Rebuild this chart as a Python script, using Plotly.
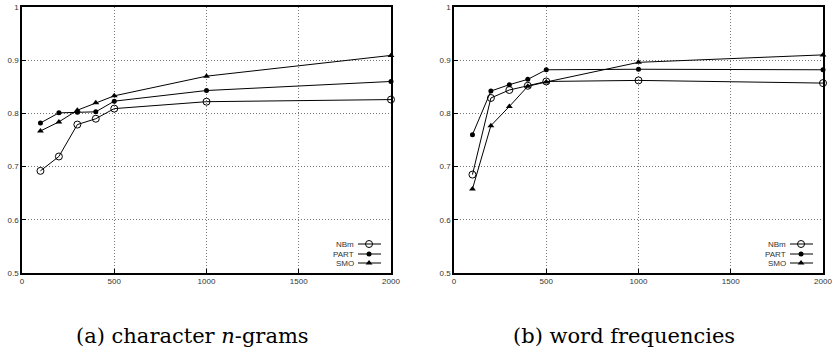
import plotly.graph_objects as go

x_vals = [100, 200, 300, 400, 500, 1000, 2000]

# (a) character n-grams
a_nbm = [0.692, 0.719, 0.779, 0.790, 0.809, 0.822, 0.826]
a_part = [0.782, 0.801, 0.802, 0.803, 0.823, 0.843, 0.860]
a_smo = [0.767, 0.784, 0.806, 0.820, 0.833, 0.870, 0.909]

# (b) word frequencies
b_nbm = [0.685, 0.829, 0.844, 0.852, 0.860, 0.862, 0.857]
b_part = [0.760, 0.842, 0.854, 0.864, 0.882, 0.883, 0.882]
b_smo = [0.658, 0.777, 0.813, 0.851, 0.859, 0.896, 0.910]

series_names = ["NBm", "PART", "SMO"]
x_ticks = [0, 500, 1000, 1500, 2000]
y_ticks = [0.5, 0.6, 0.7, 0.8, 0.9, 1.0]
y_tick_text = ["0.5", "0.6", "0.7", "0.8", "0.9", "1"]
captions = ["(a) character <i>n</i>-grams", "(b) word frequencies"]

# legend key placement (data units of each panel)
legend_rows_y = [0.5545, 0.5357, 0.5188]
legend_sample_x = [1821, 1946]
legend_marker_x = 1881
legend_text_x = 1808

markers = [
    dict(symbol="circle-open", size=7, color="black", line=dict(width=1, color="black")),
    dict(symbol="circle", size=5, color="black"),
    dict(symbol="triangle-up", size=6, color="black"),
]

fig = go.Figure()
panels = [(a_nbm, a_part, a_smo), (b_nbm, b_part, b_smo)]
for p, data in enumerate(panels):
    xa = "x" if p == 0 else "x2"
    ya = "y" if p == 0 else "y2"
    for name, vals, mk, ly in zip(series_names, data, markers, legend_rows_y):
        fig.add_trace(go.Scatter(
            x=x_vals, y=vals, name=name, mode="lines+markers",
            line=dict(color="black", width=1), marker=mk,
            xaxis=xa, yaxis=ya, showlegend=False, cliponaxis=False,
        ))
        # legend key: line sample + marker
        fig.add_trace(go.Scatter(
            x=legend_sample_x, y=[ly, ly], mode="lines",
            line=dict(color="black", width=1),
            xaxis=xa, yaxis=ya, showlegend=False, hoverinfo="skip",
        ))
        fig.add_trace(go.Scatter(
            x=[legend_marker_x], y=[ly], mode="markers", marker=mk,
            xaxis=xa, yaxis=ya, showlegend=False, hoverinfo="skip",
        ))
        fig.add_annotation(
            text=name, xref=xa, yref=ya, x=legend_text_x, y=ly,
            xanchor="right", yanchor="middle", showarrow=False,
            font=dict(family="Liberation Sans, Arial, sans-serif", size=8, color="#333"),
        )

H = 354
W = 832
ydom = [1 - 273 / H, 1 - 7 / H]
xdoms = [[22 / W, 391 / W], [454 / W, 823 / W]]

axis_common = dict(
    showline=True, mirror=True, linecolor="black", linewidth=1.5,
    showgrid=True, gridcolor="#777777", griddash="1px,2px", gridwidth=1,
    ticks="inside", ticklen=4, tickcolor="black",
    tickfont=dict(family="Liberation Sans, Arial, sans-serif", size=8, color="#333"),
    zeroline=False, automargin=False, ticklabeloverflow="allow",
)

fig.update_layout(
    width=W, height=H,
    margin=dict(l=0, r=0, t=0, b=0),
    paper_bgcolor="white", plot_bgcolor="white",
    xaxis=dict(domain=xdoms[0], range=[0, 2000], tickvals=x_ticks, anchor="y", **axis_common),
    yaxis=dict(domain=ydom, range=[0.5, 1.0], tickvals=y_ticks, ticktext=y_tick_text, anchor="x", **axis_common),
    xaxis2=dict(domain=xdoms[1], range=[0, 2000], tickvals=x_ticks, anchor="y2", **axis_common),
    yaxis2=dict(domain=ydom, range=[0.5, 1.0], tickvals=y_ticks, ticktext=y_tick_text, anchor="x2", **axis_common),
    showlegend=False,
)

caption_centers = [192 / W, 624 / W]
for cx, cap in zip(caption_centers, captions):
    fig.add_annotation(
        text=cap, xref="paper", yref="paper",
        x=cx, y=1 - 336 / H,
        showarrow=False, xanchor="center", yanchor="middle",
        font=dict(family="DejaVu Serif, Liberation Serif, serif", size=21, color="black"),
    )

fig.write_html(
    "out.html",
    config={"displayModeBar": False},
    post_script="document.body.style.margin='0';document.body.style.overflow='hidden';",
)
